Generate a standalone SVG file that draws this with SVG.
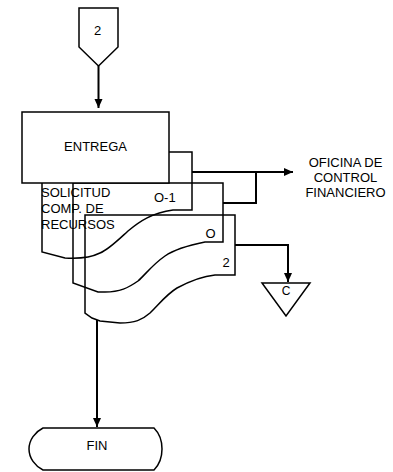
<svg xmlns="http://www.w3.org/2000/svg" width="393" height="472" viewBox="0 0 393 472">
<defs>
<style>
.s{fill:none;stroke:#000;stroke-width:1.5;stroke-linejoin:miter}
.w{fill:#fff;stroke:#000;stroke-width:1.5}
.c{fill:none;stroke:#000;stroke-width:2}
.t{font-family:"Liberation Sans",Arial,sans-serif;font-size:13px;fill:#000}
.m{text-anchor:middle}
</style>
<marker id="ah" markerWidth="10" markerHeight="10" refX="9" refY="5" orient="auto" markerUnits="userSpaceOnUse">
<path d="M0,1 L9,5 L0,9 Z" fill="#000"/>
</marker>
</defs>
<rect width="393" height="472" fill="#fff"/>
<g id="connectors">
<path class="c" d="M98.5,66 L98.5,108" marker-end="url(#ah)"/>
<path class="c" d="M192,172 L293,172" marker-end="url(#ah)"/>
<path class="c" d="M223,203 L256,203 L256,172"/>
<path class="c" d="M235,245 L288,245 L288,282" marker-end="url(#ah)"/>
<path class="c" d="M97,320 L97,427" marker-end="url(#ah)"/>
</g>
<g id="offpage2">
<path class="s" d="M79,8 L118,8 L118,47 L98.5,66 L79,47 Z"/>
<text class="t m" x="97.5" y="35">2</text>
</g>
<g id="doc1">
<path class="s" d="M42,252 L42,152 L192,152 L192,210 L173,210 C152,213 140,221 128,231 C116,242 108,250 100,253 C90,258 80,259 65,258 Z"/>
</g>
<g id="doc2">
<path class="s" d="M73,283 L73,183 L223,183 L223,242 L205,242 C190,245 175,249 165,256 C152,265 145,275 138,281 C128,288 120,292 105,292 L98,292 Z"/>
</g>
<g id="doc3">
<path class="s" d="M85,313 L85,215 L235,215 L235,275 L215,275 C205,276 190,281 177,288 C167,294 160,303 150,313 C142,320 135,323 120,323 L100,321 L92,318 Z"/>
</g>
<g id="entrega">
<rect class="w" x="22" y="112" width="147" height="71"/>
<text class="t m" x="95.5" y="151">ENTREGA</text>
</g>
<g id="doclabels">
<text class="t" x="41" y="197">SOLICITUD</text>
<text class="t" x="41" y="213">COMP. DE</text>
<text class="t" x="41" y="229">RECURSOS</text>
<text class="t" x="154" y="202">O-1</text>
<text class="t" x="205.5" y="238">O</text>
<text class="t" x="222.5" y="267">2</text>
</g>
<g id="oficina">
<text class="t m" x="345.5" y="167">OFICINA DE</text>
<text class="t m" x="345.5" y="182">CONTROL</text>
<text class="t m" x="345.5" y="197">FINANCIERO</text>
</g>
<g id="connectorC">
<path class="s" d="M262,283 L310,283 L286,316 Z"/>
<text class="t m" x="286" y="295" style="font-size:12px">C</text>
</g>
<g id="fin">
<path class="s" d="M43,428 L154,428 C159,433 162,440 162,449 C162,458 159,465 154,470 L43,470 C35,466 29,458 29,449 C29,440 35,432 43,428 Z"/>
<text class="t m" x="97" y="450">FIN</text>
</g>
</svg>
